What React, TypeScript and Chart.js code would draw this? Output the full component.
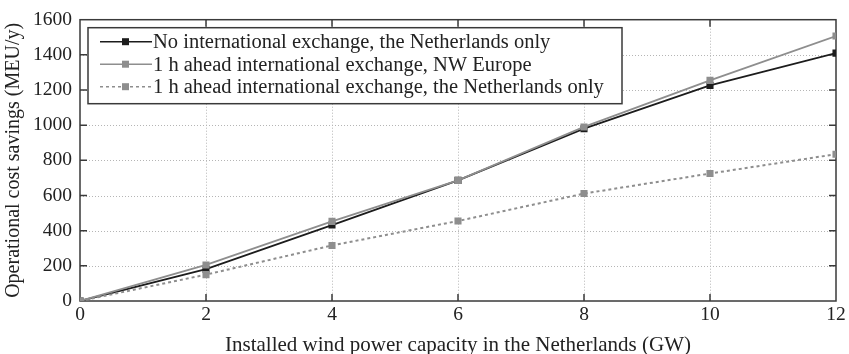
import React, { useEffect, useRef } from "react";
import { Chart, registerables } from "chart.js";

Chart.register(...registerables);

const capacityGW = [0, 2, 4, 6, 8, 10, 12];
const noExchangeNL = [0, 181, 432, 686, 980, 1226, 1410];
const exchangeNWEurope = [0, 205, 453, 686, 990, 1255, 1507];
const exchangeNLOnly = [0, 150, 316, 455, 611, 725, 835];

const seriesLabels = [
  "No international exchange, the Netherlands only",
  "1 h ahead international exchange, NW Europe",
  "1 h ahead international exchange, the Netherlands only",
];
const xTitle = "Installed wind power capacity in the Netherlands (GW)";
const yTitle = "Operational cost savings (MEU/y)";

const FONT = "'Liberation Serif', 'DejaVu Serif', serif";
const BLACK = "#1c1c1c";
const GRAY = "#8e8e8e";

const framePlugin = {
  id: "frameGrid",
  beforeDatasetsDraw(chart: any) {
    const { ctx, chartArea: a, scales } = chart;
    const xs = scales.x, ys = scales.y;
    ctx.save();
    ctx.strokeStyle = "#b5b5b5";
    ctx.lineWidth = 1;
    ctx.setLineDash([1, 2]);
    for (let v = 2; v < 12; v += 2) {
      const px = Math.round(xs.getPixelForValue(v)) + 0.5;
      ctx.beginPath();
      ctx.moveTo(px, a.top);
      ctx.lineTo(px, a.bottom);
      ctx.stroke();
    }
    for (let v = 200; v < 1600; v += 200) {
      const py = Math.round(ys.getPixelForValue(v)) + 0.5;
      ctx.beginPath();
      ctx.moveTo(a.left, py);
      ctx.lineTo(a.right, py);
      ctx.stroke();
    }
    ctx.setLineDash([]);
    ctx.strokeStyle = "#3a3a3a";
    ctx.lineWidth = 1.5;
    const T = 7;
    for (let v = 2; v < 12; v += 2) {
      const px = xs.getPixelForValue(v);
      ctx.beginPath();
      ctx.moveTo(px, a.top);
      ctx.lineTo(px, a.top + T);
      ctx.moveTo(px, a.bottom);
      ctx.lineTo(px, a.bottom - T);
      ctx.stroke();
    }
    for (let v = 200; v < 1600; v += 200) {
      const py = ys.getPixelForValue(v);
      ctx.beginPath();
      ctx.moveTo(a.left, py);
      ctx.lineTo(a.left + T, py);
      ctx.moveTo(a.right, py);
      ctx.lineTo(a.right - T, py);
      ctx.stroke();
    }
    ctx.strokeRect(a.left, a.top, a.right - a.left, a.bottom - a.top);
    ctx.restore();
  },
  afterDatasetsDraw(chart: any) {
    const { ctx, chartArea: a } = chart;
    const bx = a.left + 8, by = a.top + 8, bw = 534, bh = 76;
    ctx.save();
    ctx.fillStyle = "#ffffff";
    ctx.fillRect(bx, by, bw, bh);
    ctx.strokeStyle = "#3a3a3a";
    ctx.lineWidth = 1.5;
    ctx.strokeRect(bx, by, bw, bh);
    const rows = [
      { color: BLACK, dash: [] as number[], label: seriesLabels[0] },
      { color: GRAY, dash: [] as number[], label: seriesLabels[1] },
      { color: GRAY, dash: [3, 3], label: seriesLabels[2] },
    ];
    ctx.font = `20.5px ${FONT}`;
    ctx.textBaseline = "middle";
    rows.forEach((r, i) => {
      const y = by + 14 + i * 22.5;
      ctx.strokeStyle = r.color;
      ctx.lineWidth = 1.6;
      ctx.setLineDash(r.dash);
      ctx.beginPath();
      ctx.moveTo(bx + 12, y);
      ctx.lineTo(bx + 64, y);
      ctx.stroke();
      ctx.setLineDash([]);
      ctx.fillStyle = r.color;
      ctx.fillRect(bx + 34, y - 3.5, 7, 7);
      ctx.fillStyle = "#222";
      ctx.fillText(r.label, bx + 65, y + 1);
    });
    ctx.restore();
  },
};

export default function App() {
  const ref = useRef<HTMLCanvasElement>(null);
  useEffect(() => {
    document.body.style.margin = "0";
    const mk = (d: number[]) => capacityGW.map((x, i) => ({ x, y: d[i] }));
    const chart = new Chart(ref.current!, {
      type: "line",
      data: {
        datasets: [
          {
            label: seriesLabels[0],
            data: mk(noExchangeNL),
            borderColor: BLACK,
            backgroundColor: BLACK,
            borderWidth: 1.8,
            pointStyle: "rect",
            pointRadius: 5,
            pointBorderWidth: 0,
            order: 3,
          },
          {
            label: seriesLabels[1],
            data: mk(exchangeNWEurope),
            borderColor: GRAY,
            backgroundColor: GRAY,
            borderWidth: 1.8,
            pointStyle: "rect",
            pointRadius: 5,
            pointBorderWidth: 0,
            order: 1,
          },
          {
            label: seriesLabels[2],
            data: mk(exchangeNLOnly),
            borderColor: GRAY,
            backgroundColor: GRAY,
            borderWidth: 2,
            borderDash: [3, 3],
            pointStyle: "rect",
            pointRadius: 5,
            pointBorderWidth: 0,
            order: 2,
          },
        ],
      },
      options: {
        animation: false,
        responsive: false,
        maintainAspectRatio: false,
        layout: { padding: { top: 15, right: 13, left: 0, bottom: 0 } },
        plugins: { legend: { display: false }, tooltip: { enabled: false } },
        scales: {
          x: {
            type: "linear",
            min: 0,
            max: 12,
            grid: { display: false, drawTicks: false },
            border: { display: false },
            ticks: {
              stepSize: 2,
              color: "#222",
              padding: 2,
              font: { family: FONT, size: 19.5 },
              maxRotation: 0,
              callback: (v: any) => String(v),
            },
            title: {
              display: true,
              text: xTitle,
              color: "#222",
              font: { family: FONT, size: 21, lineHeight: 0.85 },
              padding: { top: 2, bottom: 0 },
            },
            afterFit: (s: any) => {
              s.height = 53;
            },
          },
          y: {
            type: "linear",
            min: 0,
            max: 1600,
            grid: { display: false, drawTicks: false },
            border: { display: false },
            ticks: {
              stepSize: 200,
              color: "#222",
              padding: 8,
              font: { family: FONT, size: 19.5 },
              callback: (v: any) => String(v),
            },
            title: {
              display: true,
              text: yTitle,
              color: "#222",
              font: { family: FONT, size: 20 },
              padding: { top: 2, bottom: 0 },
            },
            afterFit: (s: any) => {
              s.width = 80;
            },
          },
        },
      },
      plugins: [framePlugin],
    });
    return () => chart.destroy();
  }, []);
  return <canvas ref={ref} width={849} height={354} style={{ display: "block" }} />;
}
